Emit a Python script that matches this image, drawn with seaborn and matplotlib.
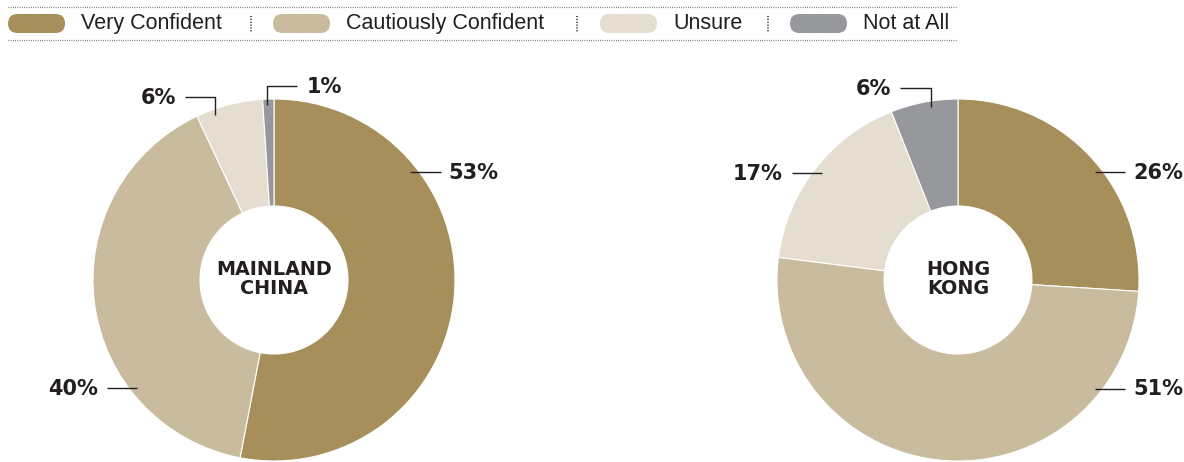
import matplotlib
matplotlib.use("Agg")
import matplotlib.pyplot as plt
from matplotlib.patches import FancyBboxPatch
import seaborn as sns

# ---- data -------------------------------------------------------------
categories = ["Very Confident", "Cautiously Confident", "Unsure", "Not at All"]
regions = ["MAINLAND\nCHINA", "HONG\nKONG"]
mainland_china = [53, 40, 6, 1]
hong_kong = [26, 51, 17, 6]
value_labels = [["53%", "40%", "6%", "1%"], ["26%", "51%", "17%", "6%"]]

palette = sns.color_palette(["#A68F5A", "#C9BB9D", "#E5DDD0", "#97989C"])
INK = "#231F20"

sns.set_theme(style="white")
plt.rcParams["font.family"] = ["Liberation Sans", "DejaVu Sans"]

W, H = 1184, 462
fig = plt.figure(figsize=(W / 100, H / 100), dpi=100)
ax = fig.add_axes([0, 0, 1, 1])


def Y(y):
    """Convert a top-down pixel row to the upward data axis."""
    return H - y


# ---- donuts -------------------------------------------------------------
R, R_IN = 181, 74
centers = [(274, 280), (958, 280)]
for (cx, cy), vals, name in zip(centers, [mainland_china, hong_kong], regions):
    ax.pie(vals, colors=palette, startangle=90, counterclock=False,
           center=(cx, Y(cy)), radius=R,
           wedgeprops=dict(width=R - R_IN, edgecolor="white", linewidth=0.8))
    ax.text(cx, Y(cy - 1), name, ha="center", va="center", fontsize=13.8,
            fontweight="bold", color=INK, linespacing=1.0,
            family="DejaVu Sans")

# leader lines (polyline points) and label anchors, per chart and segment
leaders = [
    [([(410, 172), (441, 172)], (448, 173), "left"),
     ([(107, 388), (137, 388)], (98, 389), "right"),
     ([(215, 115), (215, 97), (185, 97)], (176, 98), "right"),
     ([(267, 105), (267, 86), (297, 86)], (307, 87), "left")],
    [([(1095, 172), (1125, 172)], (1133, 173), "left"),
     ([(1095, 389), (1125, 389)], (1133, 389), "left"),
     ([(822, 173), (792, 173)], (783, 174), "right"),
     ([(931, 107), (931, 88), (900, 88)], (891, 89), "right")],
]
for chart, labels in zip(leaders, value_labels):
    for (pts, (tx, ty), ha), lab in zip(chart, labels):
        xs, ys = zip(*pts)
        ax.plot(xs, [Y(v) for v in ys], color=INK, lw=1.0,
                solid_capstyle="butt")
        ax.text(tx, Y(ty), lab, ha=ha, va="center", fontsize=15,
                fontweight="bold", color=INK, family="DejaVu Sans")

# ---- legend strip -------------------------------------------------------
for y in (6.5, 40):
    ax.plot([8, 957], [Y(y), Y(y)], color="#555555", lw=0.9,
            ls=(0, (0.6, 1.2)))
for x in (251, 577, 768):
    ax.plot([x, x], [Y(16), Y(32)], color="#333333", lw=1.2,
            ls=(0, (0.7, 1.0)))

pill_x = [8, 273, 600, 790]
pill_w = [57, 57, 57, 57]
for px, pw, col, cat in zip(pill_x, pill_w, palette, categories):
    ax.add_patch(FancyBboxPatch((px, Y(33)), pw, 19,
                                boxstyle="round,pad=0,rounding_size=9.5",
                                fc=col, ec="none"))
    ax.text(px + pw + 16, Y(23.5), cat, ha="left", va="center",
            fontsize=15.5, color=INK)

ax.set_xlim(0, W)
ax.set_ylim(0, H)
ax.set_aspect("auto")
ax.axis("off")

fig.savefig("out.png", dpi=100, facecolor="white")
